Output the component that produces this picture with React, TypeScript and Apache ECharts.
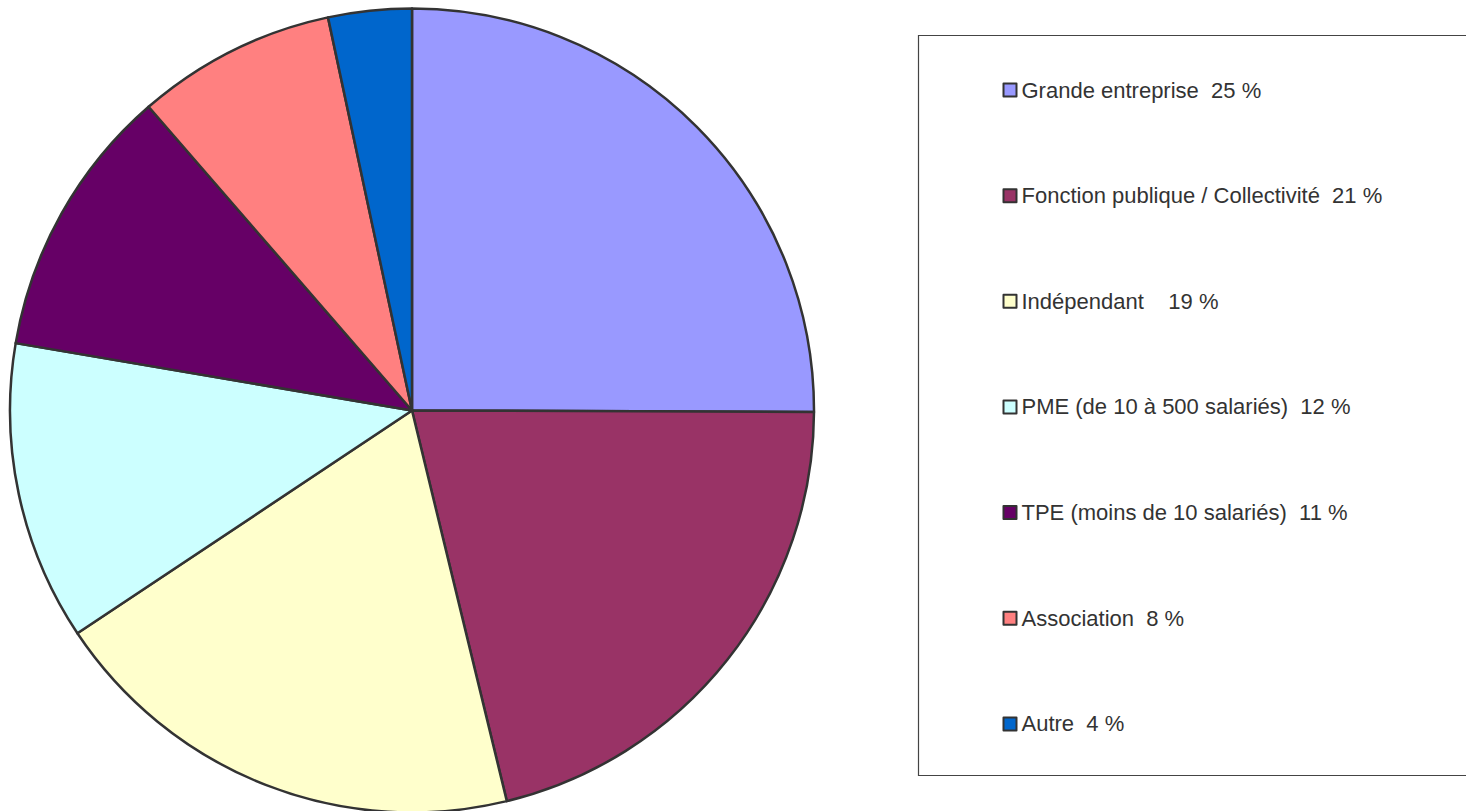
import React, { useEffect, useRef } from "react";
import * as echarts from "echarts";

const categories = [
  "Grande entreprise",
  "Fonction publique / Collectivité",
  "Indépendant",
  "PME (de 10 à 500 salariés)",
  "TPE (moins de 10 salariés)",
  "Association",
  "Autre",
];
const percentLabels = ["  25 %", "  21 %", "    19 %", "  12 %", "  11 %", "  8 %", "  4 %"];
const values = [25.06, 21.15, 19.44, 12.03, 10.95, 8.02, 3.35];
const colors = ["#9999FF", "#993366", "#FFFFCC", "#CCFFFF", "#660066", "#FF8080", "#0066CC"];

export default function App() {
  const ref = useRef<HTMLDivElement>(null);
  useEffect(() => {
    document.body.style.margin = "0";
    const chart = echarts.init(ref.current!, null, { renderer: "svg" });
    const labelMap: Record<string, string> = {};
    categories.forEach((c, i) => (labelMap[c] = c + percentLabels[i]));
    chart.setOption({
      animation: false,
      backgroundColor: "#ffffff",
      graphic: [
        {
          type: "rect",
          shape: { x: 918.5, y: 35.5, width: 600, height: 740 },
          style: { fill: "none", stroke: "#444444", lineWidth: 1.2 },
          z: -1,
        },
      ],
      legend: {
        orient: "vertical",
        left: 1002.5,
        top: 79,
        padding: 0,
        itemWidth: 13,
        itemHeight: 13,
        itemGap: 83.65,
        icon: "rect",
        selectedMode: false,
        formatter: (name: string) => labelMap[name],
        textStyle: {
          fontFamily: "Liberation Sans, Arial, sans-serif",
          fontSize: 22,
          lineHeight: 22,
          color: "#333333",
        },
        itemStyle: { borderColor: "#333333", borderWidth: 2 },
        data: categories,
      },
      series: [
        {
          type: "pie",
          center: [412, 410.5],
          radius: 402,
          startAngle: 90,
          clockwise: true,
          label: { show: false },
          labelLine: { show: false },
          emphasis: { disabled: true },
          itemStyle: { borderColor: "#333333", borderWidth: 2.5 },
          data: categories.map((c, i) => ({
            name: c,
            value: values[i],
            itemStyle: { color: colors[i] },
          })),
        },
      ],
    });
    return () => chart.dispose();
  }, []);
  return <div ref={ref} style={{ width: 1466, height: 811 }} />;
}
